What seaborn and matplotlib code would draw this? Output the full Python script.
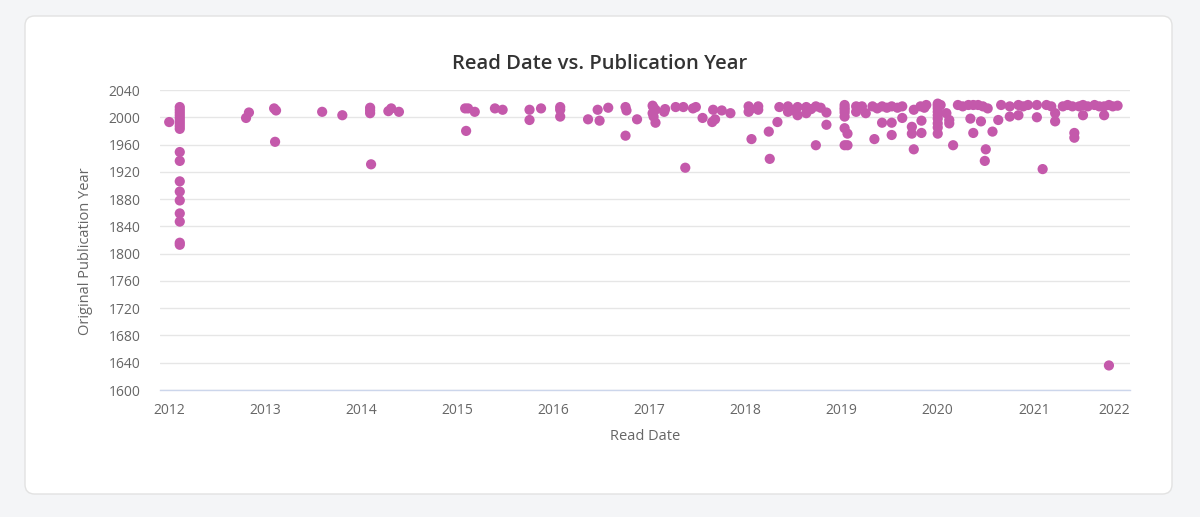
import pandas as pd
import numpy as np
import matplotlib
matplotlib.use('Agg')
import matplotlib.pyplot as plt
import matplotlib.dates as mdates
from matplotlib.patches import FancyBboxPatch
import seaborn as sns

# Read date as decimal year, original publication year
read_2012_2014 = [2012.00] + [2012.11] * 18 + [2012.80, 2012.83, 2013.09, 2013.11, 2013.10, 2013.59, 2013.80,
                  2014.09, 2014.09, 2014.09, 2014.10, 2014.28, 2014.31, 2014.39]
pub_2012_2014 = [1993, 2015, 2011, 2007, 2003, 1999, 1995, 1991, 1987, 1983, 1949, 1936, 1906, 1891, 1878,
                 1859, 1847, 1816, 1813, 1999, 2007, 2013, 2010, 1964, 2008, 2003,
                 2014, 2010, 2006, 1931, 2009, 2013, 2008]

read_2015_2016 = [2015.08, 2015.11, 2015.18, 2015.09, 2015.39, 2015.47, 2015.75, 2015.87, 2015.75,
                  2016.07, 2016.07, 2016.07, 2016.36, 2016.46, 2016.48, 2016.57,
                  2016.75, 2016.76, 2016.75, 2016.87]
pub_2015_2016 = [2013, 2013, 2008, 1980, 2013, 2011, 2011, 2013, 1996,
                 2015, 2011, 2001, 1997, 2011, 1995, 2014,
                 2015, 2010, 1973, 1997]

read_2017 = [2017.03, 2017.04, 2017.06, 2017.03, 2017.04, 2017.06, 2017.15, 2017.16, 2017.27, 2017.35,
             2017.45, 2017.48, 2017.55, 2017.65, 2017.66, 2017.68, 2017.75, 2017.84, 2017.37]
pub_2017 = [2017, 2014, 2011, 2006, 2001, 1992, 2008, 2012, 2015, 2015,
            2013, 2015, 1999, 1993, 2011, 1997, 2010, 2006, 1926]

read_2018 = [2018.03, 2018.03, 2018.05, 2018.13, 2018.13, 2018.06, 2018.33, 2018.24, 2018.25, 2018.35,
             2018.44, 2018.44, 2018.54, 2018.54, 2018.50, 2018.63, 2018.63, 2018.73, 2018.68, 2018.78,
             2018.84, 2018.84, 2018.73]
pub_2018 = [2016, 2008, 2012, 2016, 2011, 1968, 1993, 1979, 1939, 2015,
            2016, 2008, 2015, 2003, 2010, 2015, 2006, 2016, 2012, 2014,
            2007, 1989, 1959]

read_2019 = [2019.03, 2019.03, 2019.03, 2019.03, 2019.03, 2019.03, 2019.06, 2019.03, 2019.06,
             2019.15, 2019.15, 2019.21, 2019.25, 2019.32, 2019.42, 2019.37, 2019.42, 2019.52, 2019.47,
             2019.52, 2019.52, 2019.63, 2019.58, 2019.63, 2019.34,
             2019.75, 2019.82, 2019.86, 2019.83, 2019.83, 2019.73, 2019.73, 2019.75, 2019.88]
pub_2019 = [2018, 2014, 2011, 2007, 2001, 1984, 1976, 1959, 1959,
            2008, 2016, 2016, 2006, 2016, 2016, 2013, 1992, 2016, 2014,
            1992, 1974, 2016, 2014, 1999, 1968,
            2011, 2016, 2014, 1995, 1977, 1986, 1976, 1953, 2018]

read_2020 = [2020.00, 2020.00, 2020.00, 2020.00, 2020.00, 2020.00, 2020.00, 2020.00, 2020.00, 2020.03,
             2020.12, 2020.16, 2020.09, 2020.12, 2020.21, 2020.26, 2020.32, 2020.37, 2020.42, 2020.47,
             2020.52, 2020.34, 2020.37, 2020.45, 2020.57, 2020.50, 2020.49,
             2020.63, 2020.66, 2020.75, 2020.75, 2020.84, 2020.84, 2020.89, 2020.94]
pub_2020 = [2020, 2017, 2013, 2008, 2003, 1998, 1991, 1985, 1976, 2018,
            1991, 1959, 2006, 1996, 2018, 2016, 2018, 2018, 2018, 2016,
            2013, 1998, 1977, 1994, 1979, 1953, 1936,
            1996, 2018, 2016, 2001, 2018, 2003, 2016, 2018]

read_2021 = [2021.03, 2021.03, 2021.13, 2021.18, 2021.22, 2021.22, 2021.30, 2021.35, 2021.40, 2021.42,
             2021.42, 2021.47, 2021.51, 2021.51, 2021.56, 2021.63, 2021.68, 2021.73, 2021.73, 2021.78,
             2021.82, 2021.87, 2021.09, 2021.78]
pub_2021 = [2018, 2000, 2018, 2016, 2006, 1994, 2016, 2018, 2016, 1977,
            1970, 2016, 2018, 2003, 2016, 2018, 2016, 2016, 2003, 2018,
            2016, 2017, 1924, 1636]

read_dec = read_2012_2014 + read_2015_2016 + read_2017 + read_2018 + read_2019 + read_2020 + read_2021
pub_year = pub_2012_2014 + pub_2015_2016 + pub_2017 + pub_2018 + pub_2019 + pub_2020 + pub_2021


def dec_to_date(d):
    y = int(d)
    return pd.Timestamp(year=y, month=1, day=1) + pd.Timedelta(days=(d - y) * 365.25)


df = pd.DataFrame({'Read Date': [dec_to_date(d) for d in read_dec],
                   'Original Publication Year': pub_year})

sns.set_style('white')
plt.rcParams['font.family'] = ['Open Sans', 'DejaVu Sans']

fig = plt.figure(figsize=(12, 5.17), dpi=100)
fig.patch.set_facecolor('#f4f5f7')

# white card behind the chart
card = FancyBboxPatch((25 / 1200, 1 - 494 / 517), (1172 - 25) / 1200, (494 - 16) / 517,
                      boxstyle='round,pad=0,rounding_size=0.008', mutation_aspect=1200 / 517,
                      transform=fig.transFigure, facecolor='white', edgecolor='#e2e2e2',
                      linewidth=1, zorder=-5)
fig.patches.append(card)

ax = fig.add_axes([160 / 1200, 1 - 390 / 517, (1130 - 160) / 1200, 300 / 517])
ax.set_zorder(2)
ax.set_facecolor('none')

sns.scatterplot(data=df, x='Read Date', y='Original Publication Year', ax=ax,
                color='#c459ab', s=54, edgecolor='none', alpha=1, zorder=3)

ax.set_xlim(pd.Timestamp('2011-11-27'), pd.Timestamp('2022-01-01'))
ax.set_ylim(1600, 2040)
ax.set_yticks(np.arange(1600, 2041, 40))
ax.xaxis.set_major_locator(mdates.YearLocator())
ax.xaxis.set_major_formatter(mdates.DateFormatter('%Y'))

ax.grid(axis='y', color='#e6e6e6', linewidth=1)
ax.grid(axis='x', visible=False)
for side in ['top', 'right', 'left']:
    ax.spines[side].set_visible(False)
ax.spines['bottom'].set_color('#ccd6eb')
ax.spines['bottom'].set_linewidth(1)
ax.tick_params(axis='x', length=7, color='#ccd6eb', labelsize=10, labelcolor='#666666', pad=2)
ax.tick_params(axis='y', length=0, labelsize=10, labelcolor='#666666', pad=14)

# last label kept inside the plot, as in the original
fig.canvas.draw()
ax.get_xticklabels()[-1].set_ha('right')

ax.set_xlabel('Read Date', fontsize=10.5, color='#666666', labelpad=8)
ax.set_ylabel('Original Publication Year', fontsize=10.5, color='#666666')
ax.yaxis.set_label_coords(-0.069, 0.463)

fig.text(0.5, 1 - 64 / 517, 'Read Date vs. Publication Year', ha='center', va='center',
         fontsize=14.6, color='#333333', fontweight='semibold')

fig.savefig('out.png', dpi=100, facecolor=fig.get_facecolor())
